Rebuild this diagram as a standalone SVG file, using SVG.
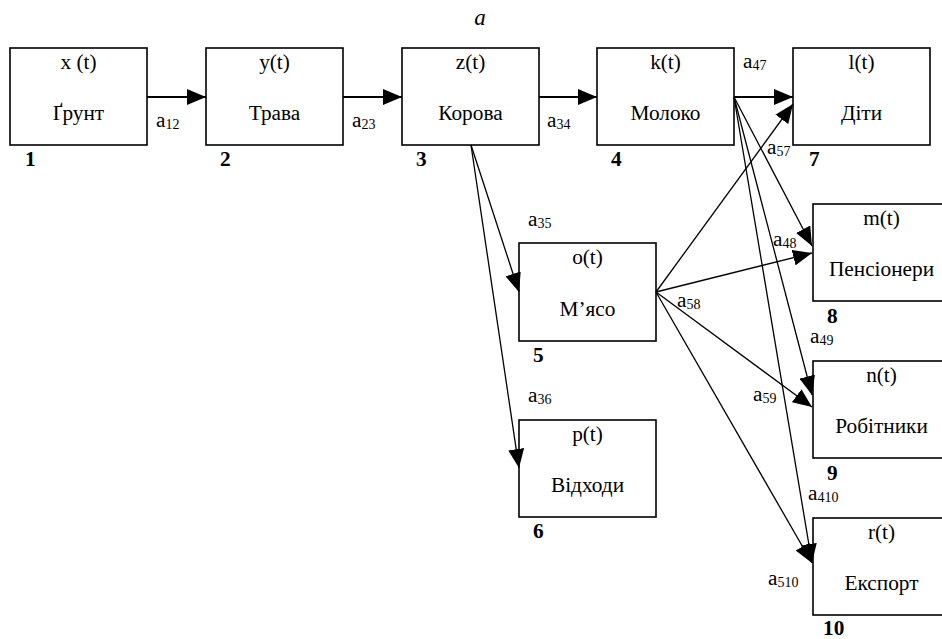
<svg xmlns="http://www.w3.org/2000/svg" width="942" height="639" viewBox="0 0 942 639" font-family="'Liberation Serif', 'Times New Roman', 'DejaVu Serif', serif">
<style>
text{font-family:'Liberation Serif','Times New Roman','DejaVu Serif',serif;font-size:21.3px;fill:#000}
.c{text-anchor:middle}
.n{font-weight:bold}
.box{fill:#fff;stroke:#000;stroke-width:1.6}
.h{stroke:#000;stroke-width:2;fill:none;marker-end:url(#ah)}
.d{stroke:#000;stroke-width:1.3;fill:none;marker-end:url(#ah)}
.s{font-size:14px}
</style>
<defs>
<marker id="ah" markerUnits="userSpaceOnUse" markerWidth="20" markerHeight="16" refX="19" refY="8" orient="auto" viewBox="0 0 20 16">
<path d="M0,0 L19,8 L0,16 z" fill="#000"/>
</marker>
</defs>
<rect width="942" height="639" fill="#fff"/>
<text x="480" y="25" class="c" style="font-style:italic;font-size:23px">a</text>

<g id="node1"><rect class="box" x="10" y="48" width="137" height="97"/><text class="c" x="78.5" y="69">x (t)</text><text class="c" x="78.5" y="120">Ґрунт</text><text class="n" x="25" y="166">1</text></g>
<g id="node2"><rect class="box" x="206" y="48" width="137" height="97"/><text class="c" x="274.5" y="69">y(t)</text><text class="c" x="274.5" y="120">Трава</text><text class="n" x="220" y="166">2</text></g>
<g id="node3"><rect class="box" x="402" y="48" width="137" height="97"/><text class="c" x="470.5" y="69">z(t)</text><text class="c" x="470.5" y="120">Корова</text><text class="n" x="416" y="166">3</text></g>
<g id="node4"><rect class="box" x="597" y="48" width="137" height="97"/><text class="c" x="665.5" y="69">k(t)</text><text class="c" x="665.5" y="120">Молоко</text><text class="n" x="611" y="166">4</text></g>
<g id="node7"><rect class="box" x="793" y="48" width="137" height="97"/><text class="c" x="861.5" y="69">l(t)</text><text class="c" x="861.5" y="120">Діти</text><text class="n" x="809" y="166">7</text></g>
<g id="node5"><rect class="box" x="519" y="243" width="137" height="98"/><text class="c" x="587.5" y="264">o(t)</text><text class="c" x="587.5" y="316">М’ясо</text><text class="n" x="533" y="362">5</text></g>
<g id="node6"><rect class="box" x="519" y="420" width="137" height="97"/><text class="c" x="587.5" y="441">p(t)</text><text class="c" x="587.5" y="492">Відходи</text><text class="n" x="533" y="538">6</text></g>
<g id="node8"><rect class="box" x="813" y="204" width="137" height="97"/><text class="c" x="881.5" y="225">m(t)</text><text class="c" x="881.5" y="276">Пенсіонери</text><text class="n" x="827" y="323">8</text></g>
<g id="node9"><rect class="box" x="813" y="361" width="137" height="97"/><text class="c" x="881.5" y="382">n(t)</text><text class="c" x="881.5" y="433">Робітники</text><text class="n" x="827" y="480">9</text></g>
<g id="node10"><rect class="box" x="813" y="518" width="137" height="97"/><text class="c" x="881.5" y="539">r(t)</text><text class="c" x="881.5" y="590">Експорт</text><text class="n" x="823" y="635">10</text></g>

<g id="connectors">
<line class="h" x1="147" y1="97" x2="206" y2="97"/>
<line class="h" x1="343" y1="97" x2="402" y2="97"/>
<line class="h" x1="539" y1="97" x2="597" y2="97"/>
<line class="h" x1="734" y1="97" x2="793" y2="97"/>
<line class="d" x1="471" y1="145" x2="519" y2="292"/>
<line class="d" x1="471" y1="145" x2="519" y2="468"/>
<line class="d" x1="734" y1="97" x2="812" y2="246"/>
<line class="d" x1="734" y1="97" x2="812" y2="395"/>
<line class="d" x1="734" y1="97" x2="812" y2="563"/>
<line class="d" x1="656" y1="292" x2="793" y2="104"/>
<line class="d" x1="656" y1="292" x2="812" y2="253"/>
<line class="d" x1="656" y1="292" x2="812" y2="407"/>
<line class="d" x1="656" y1="292" x2="812" y2="563"/>
</g>

<g id="labels">
<text x="156" y="127">a<tspan class="s" dy="2">12</tspan></text>
<text x="352" y="127">a<tspan class="s" dy="2">23</tspan></text>
<text x="547" y="127">a<tspan class="s" dy="2">34</tspan></text>
<text x="743" y="68">a<tspan class="s" dy="2">47</tspan></text>
<text x="767" y="154">a<tspan class="s" dy="2">57</tspan></text>
<text x="773" y="246">a<tspan class="s" dy="2">48</tspan></text>
<text x="810" y="343">a<tspan class="s" dy="2">49</tspan></text>
<text x="753" y="401">a<tspan class="s" dy="2">59</tspan></text>
<text x="808" y="500">a<tspan class="s" dy="2">410</tspan></text>
<text x="768" y="585">a<tspan class="s" dy="2">510</tspan></text>
<text x="528" y="226">a<tspan class="s" dy="2">35</tspan></text>
<text x="528" y="402">a<tspan class="s" dy="2">36</tspan></text>
<text x="677" y="307">a<tspan class="s" dy="2">58</tspan></text>
</g>
</svg>
